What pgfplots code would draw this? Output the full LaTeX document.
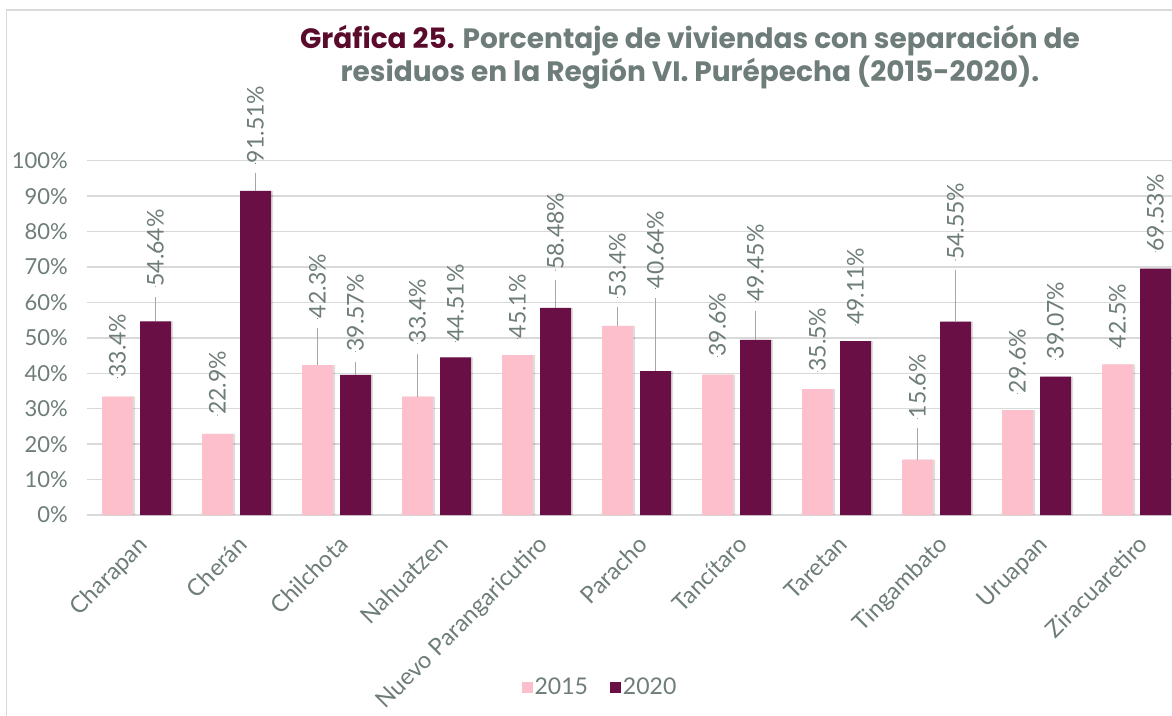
\documentclass[border=0pt]{standalone}
\usepackage{fontspec}
\setmainfont{Lato}
\newfontfamily\titlefont{Poppins}
\usepackage{pgfplots}
\pgfplotsset{compat=1.18}
\usepackage{pgfplotstable}

\definecolor{txtgray}{HTML}{6E7D7A}
\definecolor{titlered}{HTML}{5A0B2C}
\definecolor{pinkbar}{HTML}{FCBFCB}
\definecolor{maroonbar}{HTML}{690F46}
\definecolor{gridgray}{HTML}{D9D9D9}
\definecolor{leadgray}{HTML}{A6A6A6}
\newcommand\fs[1]{\fontsize{#1}{#1}\selectfont}

% 2015: x, value, label base
\pgfplotstableread{
x v ly
0 33.4 38.75
1 22.9 28.22
2 42.3 55.52
3 33.4 48.46
4 45.1 49.87
5 53.4 61.45
6 39.6 44.68
7 35.5 40.45
8 15.6 27.29
9 29.6 34.35
10 42.5 47.05
}\tabA
% 2020
\pgfplotstableread{
x v ly
0 54.64 64.44
1 91.51 99.27
2 39.57 46.09
3 44.51 48.91
4 58.48 69.15
5 40.64 63.99
6 49.45 60.20
7 49.11 53.63
8 54.55 71.97
9 39.07 43.95
10 69.53 74.32
}\tabB
% leader lines
\pgfplotstableread{
x y
1.81 42.3
1.81 52.7
nan nan
2.81 33.4
2.81 45.5
nan nan
4.81 53.4
4.81 58.7
nan nan
7.81 15.6
7.81 24.47
}\leadA
\pgfplotstableread{
x y
0.19 54.64
0.19 61.62
nan nan
1.19 91.51
1.19 96.45
nan nan
2.19 39.57
2.19 43.27
nan nan
4.19 58.48
4.19 66.33
nan nan
5.19 40.64
5.19 61.17
nan nan
6.19 49.45
6.19 57.6
nan nan
8.19 54.55
8.19 69.15
}\leadB

\begin{document}
\begin{tikzpicture}
\useasboundingbox (0,0) rectangle (1172pt,715pt);
\clip (0,0) rectangle (1172pt,715pt);
\draw[gridgray, line width=1.5pt] (6.5pt,-5pt) -- (6.5pt,705pt) -- (1190pt,705pt);
\begin{axis}[
  at={(86.5pt,200pt)}, anchor=south west,
  scale only axis, width=1100pt, height=354.3pt,
  xmin=-0.5, xmax=10.5, ymin=0, ymax=100,
  clip=false,
  axis line style={draw=none},
  tick style={draw=none}, major tick length=0pt,
  ytick={0,10,...,100},
  yticklabels={0\%,10\%,20\%,30\%,40\%,50\%,60\%,70\%,80\%,90\%,100\%},
  xtick={0,...,10},
  xticklabels={Charapan,Cherán,Chilchota,Nahuatzen,Nuevo Parangaricutiro,Paracho,Tancítaro,Taretan,Tingambato,Uruapan,Ziracuaretiro},
  tick label style={font=\fs{22}, text=txtgray},
  yticklabel style={anchor=east, inner sep=0pt, xshift=-18.5pt},
  xticklabel style={font=\fs{23.5}, inner sep=0pt, xshift=0.5pt, yshift=-19pt, rotate=45, anchor=north east},
  ymajorgrids, grid style={gridgray, line width=1.5pt},
  legend style={at={(0.4668,-0.4855)}, anchor=center, legend columns=2, draw=none, fill=none,
    font=\fs{23}, text=txtgray, /tikz/every even column/.append style={column sep=20pt}},
  legend cell align=left,
]
\addplot[forget plot, ybar, bar width=0.31, bar shift=2pt, fill=black, opacity=0.13, draw=none]
  table[x expr=\thisrow{x}-0.19, y=v]{\tabA};
\addplot[forget plot, ybar, bar width=0.31, bar shift=2pt, fill=black, opacity=0.13, draw=none]
  table[x expr=\thisrow{x}+0.19, y=v]{\tabB};
\addplot[ybar, bar width=0.31, bar shift=0pt, fill=pinkbar, draw=none,
  legend image code/.code={\fill[pinkbar] (0pt,-5.5pt) rectangle (11pt,5.5pt);}]
  table[x expr=\thisrow{x}-0.19, y=v]{\tabA};
\addlegendentry{2015}
\addplot[ybar, bar width=0.31, bar shift=0pt, fill=maroonbar, draw=none,
  legend image code/.code={\fill[maroonbar] (0pt,-5.5pt) rectangle (11pt,5.5pt);}]
  table[x expr=\thisrow{x}+0.19, y=v]{\tabB};
\addlegendentry{2020}
\addplot[forget plot, leadgray, line width=1pt, unbounded coords=jump] table[x=x,y=y]{\leadA};
\addplot[forget plot, leadgray, line width=1pt, unbounded coords=jump] table[x=x,y=y]{\leadB};
\addplot[forget plot, only marks, mark=*, mark size=0.01pt, mark options={draw=none,fill=none},
  point meta=explicit symbolic, nodes near coords={\pgfplotspointmeta\%},
  every node near coord/.append style={rotate=90, anchor=west, inner sep=0pt, font=\fs{23}, text=txtgray}]
  table[x expr=\thisrow{x}-0.19, y=ly, meta=v]{\tabA};
\addplot[forget plot, only marks, mark=*, mark size=0.01pt, mark options={draw=none,fill=none},
  point meta=explicit symbolic, nodes near coords={\pgfplotspointmeta\%},
  every node near coord/.append style={rotate=90, anchor=west, inner sep=0pt, font=\fs{23}, text=txtgray}]
  table[x expr=\thisrow{x}+0.19, y=ly, meta=v]{\tabB};
\end{axis}
\node[anchor=base, font=\titlefont\bfseries\fs{28}, text=txtgray] at (690pt,666.7pt)
  {\textcolor{titlered}{Gráfica 25.} Porcentaje de viviendas con separación de};
\node[anchor=base, font=\titlefont\bfseries\fs{28}, text=txtgray] at (690pt,633.3pt)
  {residuos en la Región VI. Purépecha (2015-2020).};
\end{tikzpicture}
\end{document}
